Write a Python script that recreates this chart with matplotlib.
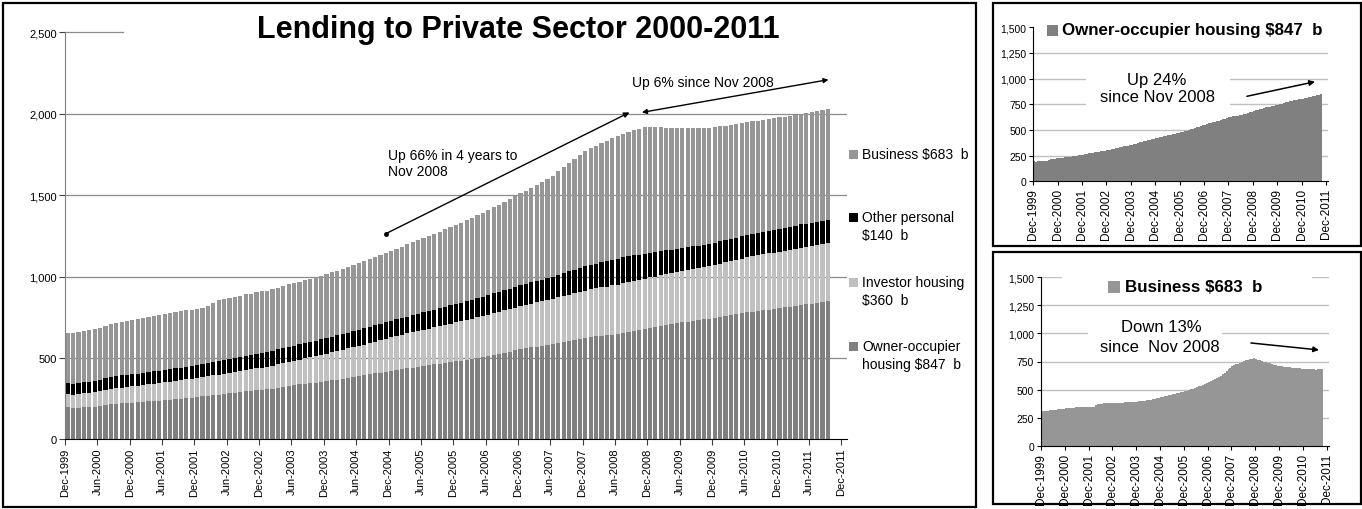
import matplotlib
matplotlib.use('Agg')
import matplotlib.pyplot as plt
from matplotlib.patches import Rectangle
import numpy as np

plt.rcParams['font.family'] = ['Liberation Sans', 'DejaVu Sans']

# Monthly lending stocks, $ billion, Dec-1999 .. Sep-2011
owner_occupier = [
    196, 191, 195, 196, 196, 198, 202, 210, 214, 218, 221, 223, 226,
    228, 230, 233, 236, 238, 241, 243, 247, 250, 253, 256, 259,
    263, 267, 271, 275, 280, 284, 286, 290, 294, 297, 300, 304,
    307, 312, 318, 323, 328, 333, 337, 341, 344, 348, 352, 356,
    362, 367, 373, 378, 383, 388, 394, 399, 405, 410, 416, 421,
    426, 431, 436, 441, 446, 451, 455, 460, 464, 469, 474, 478,
    483, 488, 494, 499, 505, 510, 518, 525, 532, 539, 546, 553,
    558, 564, 569, 574, 580, 585, 592, 598, 605, 611, 618, 624,
    628, 632, 635, 638, 642, 645, 652, 659, 666, 672, 679, 686,
    691, 697, 702, 708, 713, 719, 723, 728, 732, 737, 741, 746,
    752, 757, 763, 769, 774, 780, 784, 788, 793, 797, 801, 805,
    810, 815, 820, 825, 829, 834, 838, 843, 847,
]
investor = [
    80, 82, 84, 86, 88, 90, 92, 93, 95, 96, 97, 99, 100,
    101, 103, 104, 105, 107, 108, 110, 111, 113, 115, 116, 118,
    119, 120, 121, 122, 124, 125, 127, 129, 131, 133, 135, 137,
    139, 141, 143, 145, 148, 150, 153, 157, 160, 163, 167, 170,
    173, 175, 178, 180, 183, 185, 188, 192, 195, 198, 202, 205,
    208, 211, 214, 216, 219, 222, 225, 228, 231, 234, 237, 240,
    243, 245, 248, 250, 253, 255, 257, 258, 260, 262, 263, 265,
    267, 269, 272, 274, 276, 278, 280, 282, 284, 286, 288, 290,
    293, 295, 298, 300, 303, 305, 306, 306, 307, 307, 308, 308,
    309, 310, 312, 313, 314, 315, 317, 318, 320, 322, 323, 325,
    327, 329, 331, 334, 336, 338, 340, 341, 343, 345, 346, 348,
    349, 350, 351, 353, 354, 355, 357, 358, 360,
]
other_personal = [
    68, 69, 69, 70, 70, 71, 72, 72, 73, 73, 74, 74, 75,
    75, 75, 76, 76, 77, 77, 77, 78, 78, 79, 79, 80,
    81, 82, 83, 83, 84, 85, 86, 87, 88, 88, 89, 90,
    90, 91, 91, 92, 92, 93, 93, 93, 94, 94, 95, 95,
    96, 97, 98, 98, 99, 100, 100, 101, 101, 101, 102, 102,
    103, 103, 104, 105, 105, 106, 107, 108, 109, 110, 111, 112,
    113, 115, 116, 117, 119, 120, 121, 123, 124, 125, 127, 128,
    129, 131, 132, 133, 135, 136, 138, 140, 142, 144, 146, 148,
    150, 152, 154, 156, 158, 160, 159, 158, 156, 155, 153, 152,
    150, 148, 146, 144, 142, 140, 139, 139, 138, 137, 137, 136,
    136, 136, 136, 136, 136, 136, 137, 138, 138, 139, 139, 140,
    140, 141, 141, 142, 142, 142, 141, 141, 140,
]
business = [
    307, 309, 311, 313, 315, 318, 320, 322, 325, 327, 329, 331, 333,
    335, 336, 338, 340, 341, 343, 344, 344, 345, 345, 345, 345,
    346, 347, 365, 374, 375, 375, 376, 376, 377, 377, 378, 378,
    378, 379, 380, 382, 383, 385, 386, 387, 388, 389, 391, 392,
    394, 397, 400, 402, 405, 408, 411, 415, 419, 422, 426, 430,
    434, 439, 444, 448, 453, 458, 462, 467, 471, 476, 480, 485,
    490, 496, 503, 509, 516, 522, 529, 536, 544, 551, 558, 565,
    573, 582, 590, 600, 610, 620, 635, 650, 665, 680, 695, 710,
    717, 725, 732, 740, 748, 755, 760, 765, 769, 773, 777, 772,
    767, 762, 755, 750, 744, 738, 733, 728, 723, 719, 714, 710,
    707, 705, 702, 700, 697, 695, 693, 691, 689, 688, 686, 684,
    683, 682, 680, 679, 679, 678, 680, 681, 683,
]

years = list(range(1999, 2012))
half_year_labels = ['Dec-1999'] + [f'{m}-{y}' for y in years[1:] for m in ('Jun', 'Dec')]
year_labels = [f'Dec-{y}' for y in years]

C_OWNER, C_INV, C_OTHER, C_BUS = '#808080', '#c0c0c0', '#000000', '#969696'

W, H = 1362, 510
fig = plt.figure(figsize=(W / 100, H / 100), dpi=100)


def fx(px):
    return px / W


def fy(py):
    return 1 - py / H


def box(x0, y0, x1, y1):
    return [fx(x0), fy(y1), fx(x1) - fx(x0), fy(y0) - fy(y1)]


def frame(x0, y0, x1, y1):
    fig.patches.append(Rectangle((fx(x0), fy(y1)), fx(x1) - fx(x0), fy(y0) - fy(y1),
                                 transform=fig.transFigure, fill=False, ec='black', lw=1.6))


def white_box(x0, y0, x1, y1):
    fig.patches.append(Rectangle((fx(x0), fy(y1)), fx(x1) - fx(x0), fy(y0) - fy(y1),
                                 transform=fig.transFigure, fc='white', ec='none', zorder=0.5))


def swatch(x0, y0, size, color):
    fig.patches.append(Rectangle((fx(x0), fy(y0 + size)), size / W, size / H,
                                 transform=fig.transFigure, fc=color, ec='none'))


n = len(owner_occupier)
months = np.arange(n) + 0.5

# ---------------- main stacked chart ----------------
frame(3, 4, 976, 508)
ax = fig.add_axes(box(65, 33.3, 846.8, 440.3))
bottom = np.zeros(n)
for vals, col in [(owner_occupier, C_OWNER), (investor, C_INV),
                  (other_personal, C_OTHER), (business, C_BUS)]:
    ax.bar(months, vals, width=0.78, bottom=bottom, color=col, linewidth=0, zorder=2)
    bottom += np.array(vals)

ax.set_xlim(0, 145)
ax.set_ylim(0, 2500)
ax.set_xticks(np.arange(0, 145, 6))
ax.set_xticklabels(half_year_labels, rotation=90, fontsize=8)
ax.set_yticks(np.arange(0, 2501, 500))
ax.set_yticklabels([f'{v:,}' for v in range(0, 2501, 500)], fontsize=8)
ax.tick_params(length=4, width=0.8, pad=2, color='#404040')
for v in range(500, 2001, 500):
    ax.axhline(v, color='#8c8c8c', lw=0.9, zorder=1)
ax.axhline(2500, xmax=0.074, color='#8c8c8c', lw=0.9, zorder=1, clip_on=False)
for s in ('top', 'right'):
    ax.spines[s].set_visible(False)
ax.spines['left'].set_color('#808080')
ax.spines['bottom'].set_color('black')

fig.text(fx(518), fy(30), 'Lending to Private Sector 2000-2011', ha='center', va='center',
         fontsize=22, fontweight='bold')

ax.text(59.9, 1790, 'Up 66% in 4 years to\nNov 2008', ha='left', va='top', fontsize=10,
        linespacing=1.15)
ax.annotate('', xy=(104.7, 2008), xytext=(59.5, 1263),
            arrowprops=dict(arrowstyle='-|>', color='black', lw=1, mutation_scale=8,
                            shrinkA=0, shrinkB=0))
ax.plot([59.5], [1263], 'o', ms=2.5, color='black', zorder=5)
ax.text(118.3, 2196, 'Up 6% since Nov 2008', ha='center', va='center', fontsize=10)
ax.annotate('', xy=(141.6, 2209), xytext=(107, 2008),
            arrowprops=dict(arrowstyle='<|-|>', color='black', lw=1, mutation_scale=7,
                            shrinkA=0, shrinkB=0))

# legend drawn by hand to the right of the plot
legend_items = [
    (155, C_BUS, [f'Business ${business[-1]}  b']),
    (218, C_OTHER, ['Other personal', f'${other_personal[-1]}  b']),
    (283, C_INV, ['Investor housing', f'${investor[-1]}  b']),
    (347, C_OWNER, ['Owner-occupier', f'housing ${owner_occupier[-1]}  b']),
]
for yc, col, lines in legend_items:
    swatch(849, yc - 4.5, 9, col)
    for k, line in enumerate(lines):
        fig.text(fx(862), fy(yc + k * 18), line, ha='left', va='center', fontsize=10)

# ---------------- small charts ----------------
def small_chart(rect, vals, color, grid_levels):
    a = fig.add_axes(rect)
    a.bar(months, vals, width=1.0, color=color, linewidth=0, zorder=2)
    a.set_xlim(0, 145)
    a.set_ylim(0, 1500)
    a.set_xticks(np.arange(0, 145, 12))
    a.set_xticklabels(year_labels, rotation=90, fontsize=8.5)
    a.set_yticks(np.arange(0, 1501, 250))
    a.set_yticklabels([f'{v:,}' for v in range(0, 1501, 250)], fontsize=7.5)
    a.tick_params(length=3, width=0.8, pad=2)
    for v in grid_levels:
        a.axhline(v, color='#c0c0c0', lw=1, zorder=1)
    for s in ('top', 'right'):
        a.spines[s].set_visible(False)
    return a


# owner-occupier panel
frame(993, 4, 1361, 247)
ax1 = small_chart(box(1033.3, 28.3, 1328, 182.3), owner_occupier, C_OWNER,
                  range(250, 1251, 250))
swatch(1047, 26, 11, C_OWNER)
fig.text(fx(1062), fy(31), f'Owner-occupier housing ${owner_occupier[-1]}  b', ha='left',
         va='center', fontsize=12.2, fontweight='bold')
white_box(1086, 68, 1230, 108)
fig.text(fx(1157), fy(80), 'Up 24%', ha='center', va='center', fontsize=12)
fig.text(fx(1157), fy(97), 'since Nov 2008', ha='center', va='center', fontsize=12)
ax1.annotate('', xy=(138.6, 970), xytext=(105.1, 828),
             arrowprops=dict(arrowstyle='-|>', color='black', lw=1.1, mutation_scale=8,
                             shrinkA=0, shrinkB=0))

# business panel
frame(993, 253, 1361, 505)
ax2 = small_chart(box(1041, 278.3, 1328.7, 446.7), business, C_BUS,
                  range(250, 1501, 250))
white_box(1062, 274, 1312, 300)
swatch(1108, 282, 12, C_BUS)
fig.text(fx(1125), fy(288), f'Business ${business[-1]}  b', ha='left', va='center',
         fontsize=12.2, fontweight='bold')
white_box(1088, 316, 1222, 360)
fig.text(fx(1161), fy(327), 'Down 13%', ha='center', va='center', fontsize=12)
fig.text(fx(1160), fy(347), 'since  Nov 2008', ha='center', va='center', fontsize=12)
ax2.annotate('', xy=(140.1, 853), xytext=(105.8, 915),
             arrowprops=dict(arrowstyle='-|>', color='black', lw=1.1, mutation_scale=8,
                             shrinkA=0, shrinkB=0))

fig.savefig('out.png', dpi=100, facecolor='white')
